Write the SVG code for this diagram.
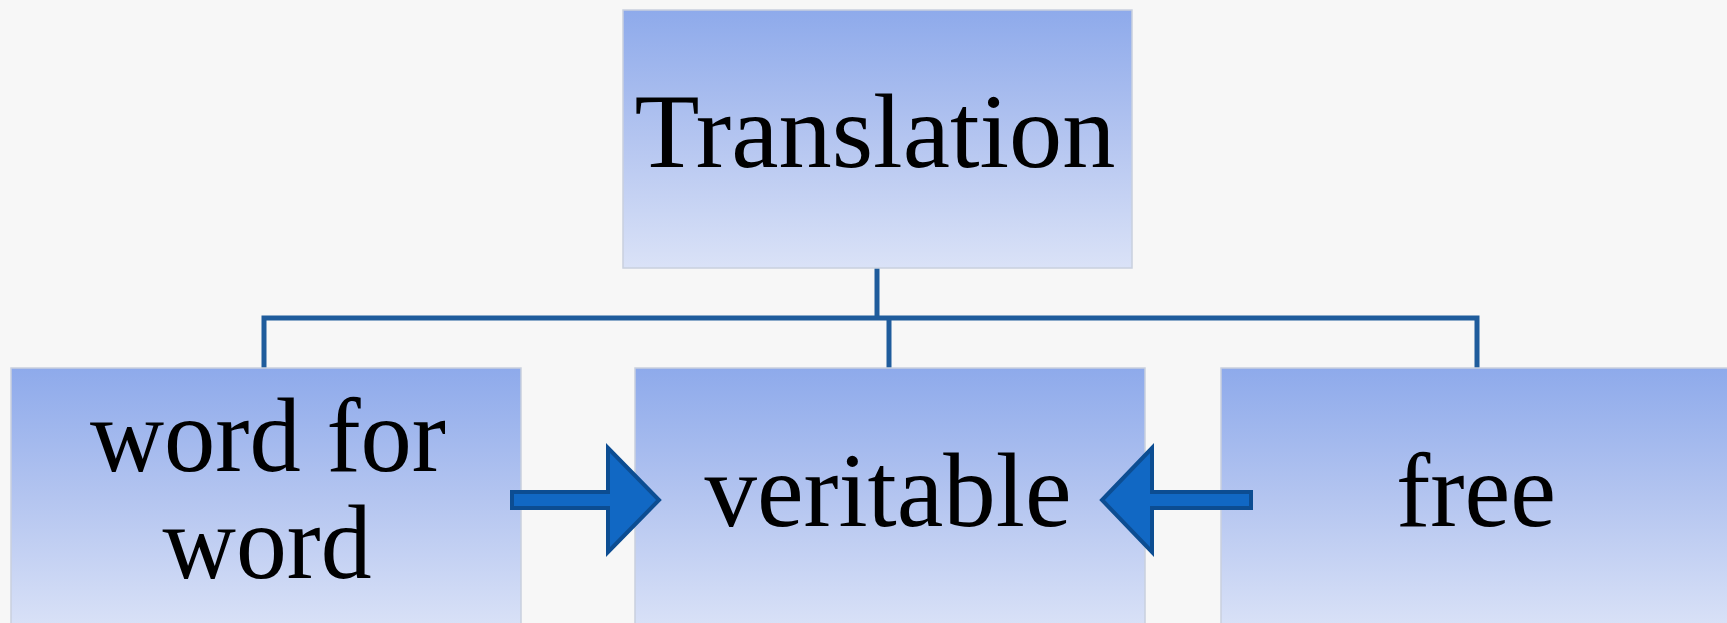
<svg xmlns="http://www.w3.org/2000/svg" width="1727" height="623" viewBox="0 0 1727 623">
  <defs>
    <linearGradient id="boxGrad" x1="0" y1="0" x2="0" y2="1">
      <stop offset="0" stop-color="#8eaaeb"/>
      <stop offset="0.5" stop-color="#b4c5f0"/>
      <stop offset="1" stop-color="#dae2f7"/>
    </linearGradient>
  </defs>
  <style>
    .box { fill: url(#boxGrad); stroke: #c9d0de; stroke-width: 1.5; }
    .lbl { font-family: "Liberation Serif", "DejaVu Serif", serif; font-size: 106px; fill: #000; text-anchor: middle; }
    .conn { fill: none; stroke: #1f5c9c; stroke-width: 5; }
    .arrow { fill: #1168c4; stroke: #0c4d92; stroke-width: 4; stroke-linejoin: miter; }
  </style>
  <rect x="0" y="0" width="1727" height="623" fill="#f7f7f7"/>

  <g id="connectors">
    <path class="conn" d="M877 268 V318"/>
    <path class="conn" d="M264 368 V318 H1477 V368"/>
    <path class="conn" d="M889 318 V368"/>
  </g>

  <g id="node-translation">
    <rect class="box" x="623" y="10" width="509" height="258"/>
    <text class="lbl" x="875" y="167" textLength="481" lengthAdjust="spacingAndGlyphs">Translation</text>
  </g>

  <g id="node-word-for-word">
    <rect class="box" x="11" y="368" width="510" height="262"/>
    <text class="lbl" x="268" y="471" textLength="356" lengthAdjust="spacingAndGlyphs">word for</text>
    <text class="lbl" x="267" y="578" textLength="209" lengthAdjust="spacingAndGlyphs">word</text>
  </g>

  <g id="node-veritable">
    <rect class="box" x="635" y="368" width="510" height="262"/>
    <text class="lbl" x="888" y="526" textLength="367" lengthAdjust="spacingAndGlyphs">veritable</text>
  </g>

  <g id="node-free">
    <rect class="box" x="1221" y="368" width="512" height="262"/>
    <text class="lbl" x="1476" y="526" textLength="160" lengthAdjust="spacingAndGlyphs">free</text>
  </g>

  <g id="arrows">
    <polygon class="arrow" points="512,492 608,492 608,448 659,500 608,552 608,508 512,508"/>
    <polygon class="arrow" points="1251,492 1152,492 1152,448 1102,500 1152,552 1152,508 1251,508"/>
  </g>
</svg>
